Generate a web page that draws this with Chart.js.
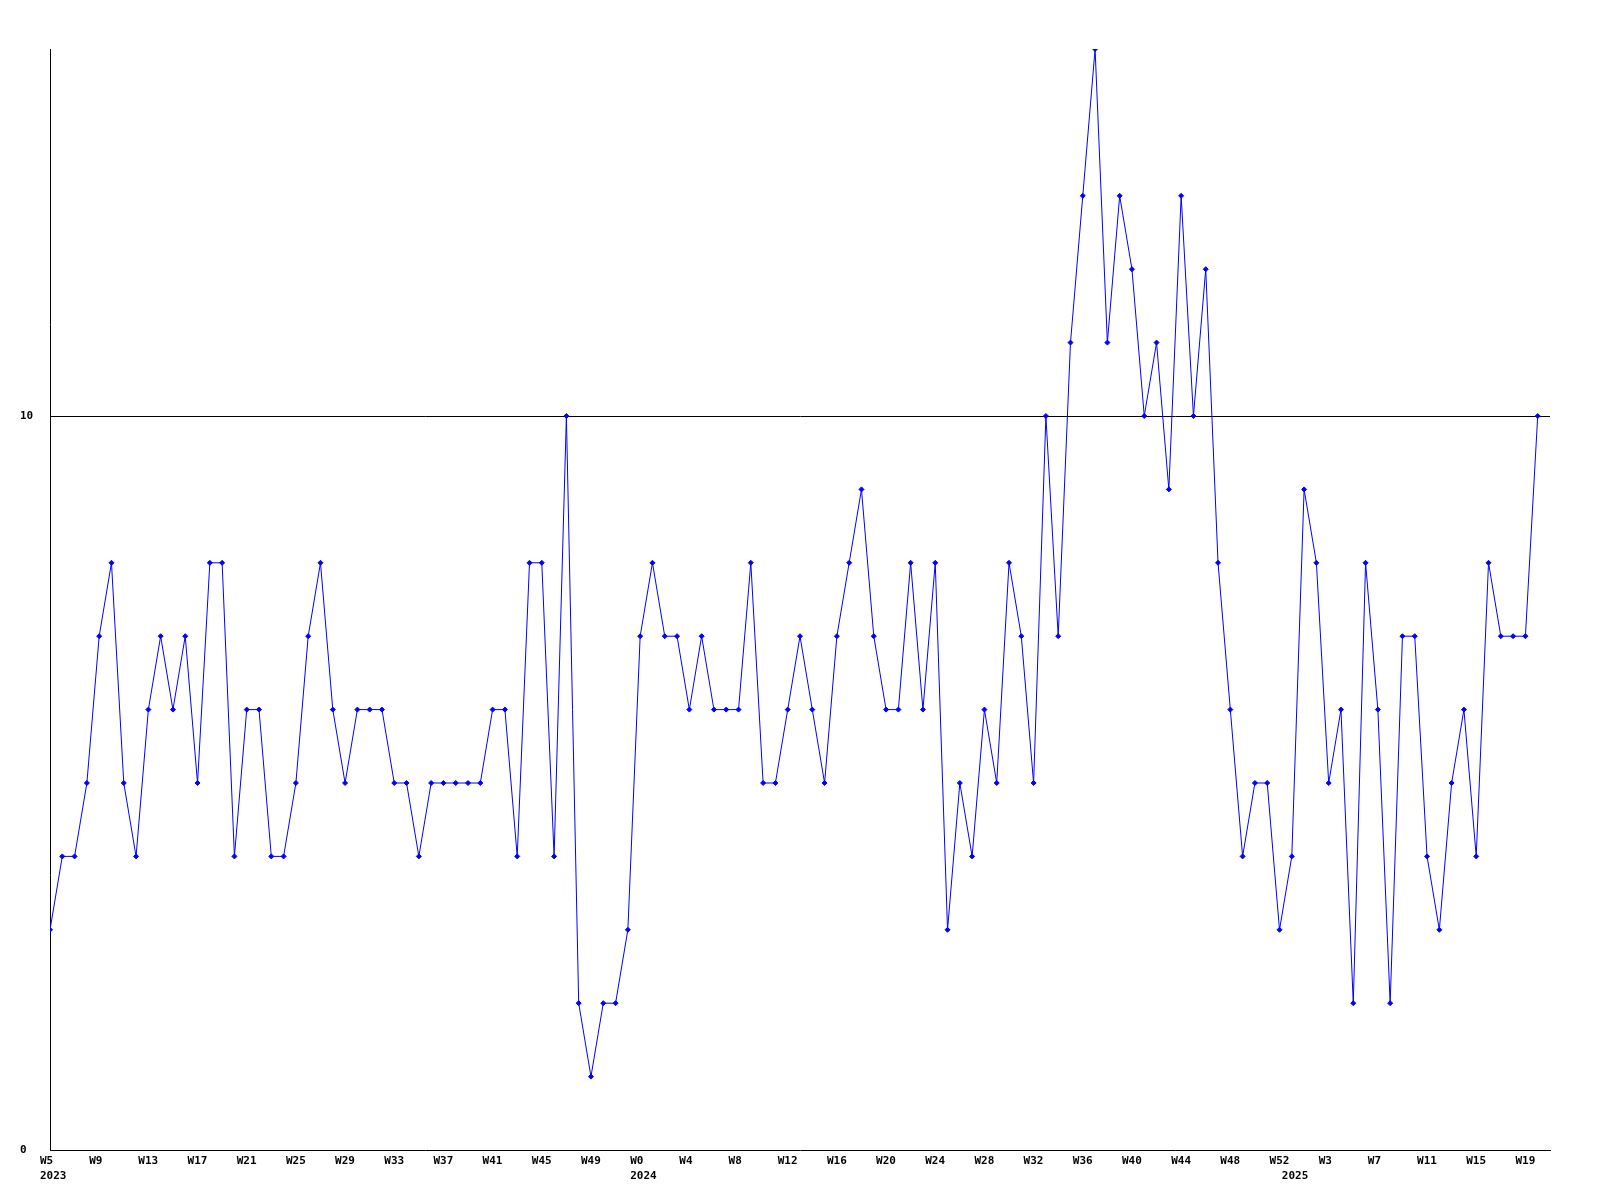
<!DOCTYPE html>
<html>
<head>
<meta charset="utf-8">
<script src="https://cdn.jsdelivr.net/npm/chart.js@4.4.1/dist/chart.umd.min.js"></script>
<style>
  html, body { margin: 0; padding: 0; background: #ffffff; }
  canvas { display: block; }
</style>
</head>
<body>
<canvas id="c" width="1600" height="1200"></canvas>
<script>
// Week categories (year + week label)
const categories = [
  "2023 W5","2023 W6","2023 W7","2023 W8","2023 W9","2023 W10","2023 W11","2023 W12",
  "2023 W13","2023 W14","2023 W15","2023 W16","2023 W17","2023 W18","2023 W19","2023 W20",
  "2023 W21","2023 W22","2023 W23","2023 W24","2023 W25","2023 W26","2023 W27","2023 W28",
  "2023 W29","2023 W30","2023 W31","2023 W32","2023 W33","2023 W34","2023 W35","2023 W36",
  "2023 W37","2023 W38","2023 W39","2023 W40","2023 W41","2023 W42","2023 W43","2023 W44",
  "2023 W45","2023 W46","2023 W47","2023 W48","2023 W49","2023 W50","2023 W51","2023 W52",
  "2024 W0","2024 W1","2024 W2","2024 W3","2024 W4","2024 W5","2024 W6","2024 W7",
  "2024 W8","2024 W9","2024 W10","2024 W11","2024 W12","2024 W13","2024 W14","2024 W15",
  "2024 W16","2024 W17","2024 W18","2024 W19","2024 W20","2024 W21","2024 W22","2024 W23",
  "2024 W24","2024 W25","2024 W26","2024 W27","2024 W28","2024 W29","2024 W30","2024 W31",
  "2024 W32","2024 W33","2024 W34","2024 W35","2024 W36","2024 W37","2024 W38","2024 W39",
  "2024 W40","2024 W41","2024 W42","2024 W43","2024 W44","2024 W45","2024 W46","2024 W47",
  "2024 W48","2024 W49","2024 W50","2024 W51","2024 W52",
  "2025 W0","2025 W1","2025 W2","2025 W3","2025 W4","2025 W5","2025 W6","2025 W7",
  "2025 W8","2025 W9","2025 W10","2025 W11","2025 W12","2025 W13","2025 W14","2025 W15",
  "2025 W16","2025 W17","2025 W18","2025 W19","2025 W20"
];

// Series values
const values = [
  3,4,4,5,7,8,5,4, 6,7,6,7,5,8,8,4,
  6,6,4,4,5,7,8,6, 5,6,6,6,5,5,4,5,
  5,5,5,5,6,6,4,8, 8,4,10,2,1,2,2,3,
  7,8,7,7,6,7,6,6, 6,8,5,5,6,7,6,5,
  7,8,9,7,6,6,8,6, 8,3,5,4,6,5,8,7,
  5,10,7,11,13,15,11,13, 12,10,11,9,13,10,12,8,
  6,4,5,5,3,
  4,9,8,5,6,2,8,6, 2,7,7,4,3,5,6,4,
  8,7,7,7,10
];

// Axis ticks
const yTicks = [0, 10];
const xLabelEvery = 4;
const xMax = 122;
const yMax = 15;

const weekOf = categories.map(c => c.split(' ')[1]);
const yearOf = categories.map(c => c.split(' ')[0]);

const FONT = { family: "'DejaVu Sans Mono', 'Liberation Mono', monospace", size: 11, weight: 'bold', lineHeight: '15px' };

new Chart(document.getElementById('c'), {
  type: 'line',
  data: {
    datasets: [{
      data: values.map((v, i) => ({ x: i, y: v })),
      borderColor: '#0000ff',
      backgroundColor: '#0000ff',
      borderWidth: 1,
      tension: 0,
      fill: false,
      pointStyle: 'rectRot',
      pointRadius: 2.5,
      pointBorderWidth: 1,
      pointBackgroundColor: '#0000ff',
      pointBorderColor: '#0000ff'
    }]
  },
  options: {
    responsive: false,
    animation: false,
    devicePixelRatio: 1,
    layout: { padding: { left: 20, top: 49, right: 50, bottom: 0 } },
    plugins: { legend: { display: false }, tooltip: { enabled: false } },
    scales: {
      x: {
        type: 'linear',
        min: 0,
        max: xMax,
        afterBuildTicks: (scale) => { scale.ticks = categories.map((_, i) => ({ value: i })); },
        afterFit: (scale) => { scale.height = 50; },
        grid: { display: false, drawTicks: false },
        border: { display: true, color: '#000000', width: 1 },
        ticks: {
          autoSkip: false,
          maxRotation: 0,
          minRotation: 0,
          align: 'start',
          labelOffset: -10,
          padding: 4,
          color: '#000000',
          font: FONT,
          callback: (value) => {
            const i = Math.round(value);
            if (i < 0 || i >= categories.length) return '';
            const wk = (i % xLabelEvery === 0) ? weekOf[i] : '';
            const newYear = (i === 0 || yearOf[i] !== yearOf[i - 1]);
            if (newYear) return [wk, yearOf[i]];
            return wk;
          }
        }
      },
      y: {
        type: 'linear',
        min: 0,
        max: yMax,
        afterBuildTicks: (scale) => { scale.ticks = yTicks.map(v => ({ value: v })); },
        afterFit: (scale) => { scale.width = 30; },
        grid: {
          drawTicks: false,
          color: (ctx) => (ctx.tick && ctx.tick.value === 10) ? '#000000' : 'rgba(0,0,0,0)',
          lineWidth: 1
        },
        border: { display: true, color: '#000000', width: 1 },
        ticks: {
          crossAlign: 'far',
          color: '#000000',
          font: FONT,
          padding: 4
        }
      }
    }
  }
});
</script>
</body>
</html>
